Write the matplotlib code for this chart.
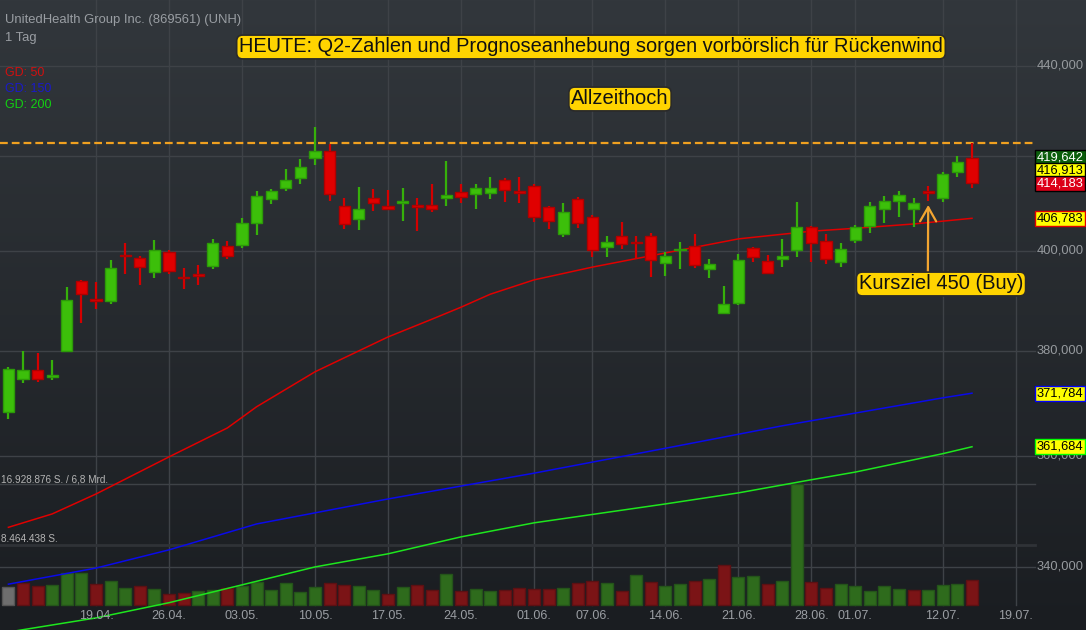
import matplotlib
matplotlib.use('Agg')
import matplotlib.pyplot as plt
import numpy as np

plt.rcParams['font.family'] = ['Liberation Sans', 'DejaVu Sans']

# daily candles 09.04. - 14.07. (trading days, index 0..66)
opens = [368.3, 374.6, 376.3, 375.0, 380.0, 393.9, 390.1, 389.9, 399.2, 398.5,
         395.8, 399.8, 394.7, 395.3, 396.9, 401.0, 401.2, 405.7, 410.8, 413.2,
         415.2, 419.5, 421.1, 409.4, 406.6, 411.1, 409.4, 410.0, 409.5, 409.5,
         411.0, 412.4, 412.0, 412.2, 414.8, 412.6, 413.7, 409.1, 403.6, 410.9,
         407.0, 400.9, 403.2, 401.8, 403.2, 397.5, 400.2, 401.0, 396.3, 387.4,
         389.5, 400.6, 397.9, 398.4, 400.3, 404.9, 402.0, 397.8, 402.2, 405.2,
         408.8, 410.4, 408.8, 412.4, 411.1, 416.6, 419.642]
highs = [376.9, 379.9, 379.5, 378.2, 392.7, 394.1, 393.7, 398.2, 401.6, 399.0,
         402.3, 400.2, 396.5, 397.1, 402.4, 402.1, 406.9, 412.6, 412.9, 417.2,
         419.4, 426.4, 422.6, 411.1, 413.3, 412.9, 412.7, 413.1, 411.1, 414.1,
         419.0, 414.1, 414.1, 415.5, 415.2, 415.6, 414.0, 409.4, 409.9, 411.3,
         407.4, 403.0, 406.0, 403.0, 403.7, 399.8, 401.9, 403.5, 398.3, 392.9,
         399.3, 400.8, 399.2, 402.5, 410.3, 405.2, 403.5, 401.6, 405.4, 410.3,
         411.5, 412.5, 411.0, 413.5, 416.6, 420.1, 422.8]
lows = [366.8, 373.8, 374.0, 374.3, 379.8, 385.4, 388.3, 389.3, 395.3, 393.1,
        394.4, 395.2, 392.2, 393.1, 396.3, 398.3, 400.6, 403.4, 409.7, 412.5,
        414.1, 418.1, 410.5, 404.6, 404.3, 408.4, 408.7, 406.3, 404.2, 408.1,
        409.4, 410.0, 408.8, 410.8, 410.2, 410.0, 406.1, 404.5, 402.8, 404.7,
        398.7, 398.7, 400.5, 398.4, 394.7, 394.9, 396.4, 396.6, 394.5, 387.2,
        389.1, 397.8, 395.2, 396.8, 398.8, 397.8, 397.4, 396.8, 401.7, 403.8,
        405.7, 407.1, 405.0, 410.4, 410.2, 415.5, 413.2]
closes = [376.4, 376.2, 374.5, 375.2, 390.0, 391.2, 390.0, 396.5, 399.0, 396.7,
          400.3, 396.0, 394.5, 394.9, 401.6, 398.9, 405.9, 411.4, 412.5, 414.8,
          417.6, 421.1, 411.8, 405.5, 408.8, 410.0, 408.8, 410.5, 409.3, 408.8,
          411.6, 411.2, 413.1, 413.2, 412.8, 412.2, 407.0, 406.2, 408.1, 405.8,
          400.3, 401.8, 401.4, 401.7, 398.1, 399.0, 400.4, 397.2, 397.4, 389.3,
          398.1, 398.8, 395.6, 399.0, 404.9, 401.6, 398.3, 400.4, 404.9, 409.3,
          410.5, 411.6, 410.0, 412.2, 416.1, 418.7, 414.183]
volumes = [2.52, 3.03, 2.61, 2.80, 4.48, 4.48, 2.89, 3.31, 2.38, 2.71,
           2.29, 1.54, 1.73, 1.91, 2.15, 2.43, 2.61, 3.27, 2.10, 3.10,
           1.86, 2.48, 3.10, 2.81, 2.63, 2.10, 1.58, 2.57, 2.81, 2.15,
           4.39, 1.91, 2.29, 1.96, 2.10, 2.38, 2.24, 2.24, 2.34, 3.05,
           3.39, 3.10, 1.91, 4.15, 3.15, 2.72, 2.91, 3.39, 3.58, 5.63,
           3.91, 4.05, 3.00, 3.34, 16.928876, 3.22, 2.42, 2.89, 2.66, 1.96,
           2.61, 2.24, 2.05, 2.10, 2.80, 2.98, 3.50]  # Mio. Stueck
last_mid = 416.913

gd50_days = [0, 3, 6, 11, 15, 17, 21, 26, 29, 31, 33, 36, 40, 45, 50, 55, 58, 62, 66]
gd50 = [347.0, 349.4, 353.0, 359.8, 365.2, 369.2, 375.9, 382.7, 386.2, 388.6,
        391.2, 394.1, 396.7, 399.6, 402.5, 404.1, 404.7, 405.6, 406.783]
gd150_days = [0, 6, 11, 17, 26, 36, 45, 53, 58, 64, 66]
gd150 = [337.0, 339.8, 343.0, 347.6, 352.1, 356.8, 361.4, 365.6, 368.0, 370.9, 371.784]
gd200_days = [0, 6, 11, 17, 21, 26, 31, 36, 45, 50, 55, 58, 64, 66]
gd200 = [328.8, 331.2, 333.8, 337.5, 340.0, 342.3, 345.3, 347.8, 351.2, 353.2,
         355.6, 357.0, 360.4, 361.684]

tick_days = [6, 11, 16, 21, 26, 31, 36, 40, 45, 50, 55, 58, 64, 69]
tick_labels = ['19.04.', '26.04.', '03.05.', '10.05.', '17.05.', '24.05.', '01.06.',
               '07.06.', '14.06.', '21.06.', '28.06.', '01.07.', '12.07.', '19.07.']
price_grid = [340, 360, 380, 400, 420, 440]
price_labels = [340, 360, 380, 400, 440]
vmax = 16928876

# ---- layout (pixels of the 1086x630 picture)
W, H = 1086, 630
x0_px, step_px = 8.4, 14.6
y400_px, px_per_ln = 251, 1944
vol_base_px, vol_top_px = 605, 484
right_px = 1035

fig = plt.figure(figsize=(W / 100, H / 100), dpi=100)

top_c = np.array([50, 55, 60]) / 255
bot_c = np.array([26, 29, 33]) / 255
t = np.linspace(0, 1, H)[:, None, None]
grad = (top_c * (1 - t) + bot_c * t) * np.ones((1, W, 1))
fig.figimage(grad, xo=0, yo=0, origin='upper', zorder=-1)

xlim = (-x0_px / step_px, (W - x0_px) / step_px)
ylim = (400 * np.exp(-(H - y400_px) / px_per_ln), 400 * np.exp(y400_px / px_per_ln))
per_px = vmax / (vol_base_px - vol_top_px)
vlim = (-(H - vol_base_px) * per_px, vol_base_px * per_px)

axg = fig.add_axes([0, 0, 1, 1], zorder=1)
axv = fig.add_axes([0, 0, 1, 1], zorder=2)
ax = fig.add_axes([0, 0, 1, 1], zorder=3)
for a in (axg, ax):
    a.set_yscale('log')
    a.set_ylim(ylim)
axv.set_ylim(vlim)
for a in (axg, axv, ax):
    a.set_xlim(xlim)
    a.axis('off')

grid_c = '#3e4247'
xr = right_px / W
for d in tick_days:
    axg.axvline(d, ymin=(H - vol_base_px) / H, ymax=1, color=grid_c, lw=1)
for p in price_grid:
    axg.axhline(p, xmax=xr, color=grid_c, lw=1)
axv.axhline(vmax, xmax=xr, color=grid_c, lw=1)
axv.axhline(vmax / 2, xmax=xr, color='#2f3237', lw=2)

# volumes
o = np.array(opens); c = np.array(closes)
hi = np.array(highs); lo = np.array(lows)
idx = np.arange(len(c))
vol = np.array(volumes) * 1e6
vol[54] = vmax
vcol = ['#6e6e6e'] + ['#2e6b1c' if c[k] > c[k - 1] else '#7b1416' for k in range(1, len(c))]
vedge = ['#555555'] + ['#24541a' if c[k] > c[k - 1] else '#5c1013' for k in range(1, len(c))]
axv.bar(idx, vol, width=0.82, color=vcol, edgecolor=vedge, lw=1, zorder=2)

def dots(n):
    return '{:,}'.format(n).replace(',', '.')

fs_small = 7.2
axv.text(1 / W, vmax, dots(vmax) + ' S. / 6,8 Mrd.',
         transform=axv.get_yaxis_transform(), color='#b4b4b4', fontsize=fs_small,
         va='bottom', ha='left')
axv.text(1 / W, vmax / 2, dots(vmax // 2) + ' S.',
         transform=axv.get_yaxis_transform(), color='#b4b4b4', fontsize=fs_small,
         va='bottom', ha='left')

# moving averages
ax.plot(gd200_days, gd200, color='#1ee61e', lw=1.1, zorder=2)
ax.plot(gd150_days, gd150, color='#0a0aeb', lw=1.1, zorder=2)
ax.plot(gd50_days, gd50, color='#e00000', lw=1.1, zorder=2)

# candles
up = c >= o
body_h = np.maximum(np.abs(c - o), 0.35)
body_lo = (o + c) / 2 - body_h / 2
ax.vlines(idx[up], lo[up], hi[up], color='#36b00a', lw=1.6, zorder=4)
ax.vlines(idx[~up], lo[~up], hi[~up], color='#d40000', lw=1.6, zorder=4)
ax.bar(idx[up], body_h[up], bottom=body_lo[up], width=0.78, color='#3cbf0a',
       edgecolor='#2c9a08', lw=1, zorder=5)
ax.bar(idx[~up], body_h[~up], bottom=body_lo[~up], width=0.78, color='#e00000',
       edgecolor='#b00000', lw=1, zorder=5)

# hoch-linie
ax.axhline(hi[-1], xmax=xr, color='#f0a020', lw=1.6, ls=(0, (3.5, 1.8)), zorder=3)

# right axis labels
ytr = ax.get_yaxis_transform()
lx = (right_px + 2) / W
for p in price_labels:
    ax.text(lx, p, '{},000'.format(p), transform=ytr, color='#969a9e',
            fontsize=9.3, va='center', ha='left', zorder=6)

def fmt(v):
    return '{:.3f}'.format(v).replace('.', ',')

boxes = [(o[-1], '#0b5e0b', 'black', 'white'),
         (last_mid, '#ffff00', 'black', 'black'),
         (c[-1], '#dc0018', 'black', 'white'),
         (gd50[-1], '#ffff00', '#e00000', 'black'),
         (gd150[-1], '#ffff00', '#0000ff', 'black'),
         (gd200[-1], '#ffff00', '#00ff00', 'black')]
for v, fc, ec, tc in boxes:
    ax.text(lx, v, fmt(v), transform=ytr, color=tc, fontsize=9.3, va='center',
            ha='left', zorder=8,
            bbox=dict(boxstyle='square,pad=0.12', fc=fc, ec=ec, lw=1))

# header texts
gray = '#9a9ea3'
fig.text(5 / W, 1 - 20 / H, 'UnitedHealth Group Inc. (869561) (UNH)', color=gray,
         fontsize=9.4, va='center', ha='left')
fig.text(5 / W, 1 - 38 / H, '1 Tag', color=gray, fontsize=9.4, va='center', ha='left')
fig.text(5 / W, 1 - 73 / H, 'GD: 50', color='#d01010', fontsize=9, va='center')
fig.text(5 / W, 1 - 89 / H, 'GD: 150', color='#1a1ac8', fontsize=9, va='center')
fig.text(5 / W, 1 - 105 / H, 'GD: 200', color='#12d012', fontsize=9, va='center')

# dates
for d, lab in zip(tick_days, tick_labels):
    ax.text(d, 1 - 616 / H, lab, transform=ax.get_xaxis_transform(), color=gray,
            fontsize=9, ha='center', va='center')

# yellow notes
note = dict(boxstyle='round,pad=0.12,rounding_size=0.3', fc='#ffd400', ec='#2a2a2a', lw=1.2)
ax.text(591 / W, 1 - 47 / H,
        'HEUTE: Q2-Zahlen und Prognoseanhebung sorgen vorbörslich für Rückenwind',
        transform=ax.transAxes, fontsize=14.4, ha='center', va='center',
        color='#111111', bbox=note, zorder=9)
ax.text(620 / W, 1 - 99 / H, 'Allzeithoch', transform=ax.transAxes, fontsize=14.5,
        ha='center', va='center', color='#111111', bbox=note, zorder=9)
ax.annotate('Kursziel 450 (Buy)', xy=(63, lo[63] * 0.998), xycoords='data',
            xytext=(941 / W, 1 - 284 / H), textcoords='axes fraction',
            fontsize=14.5, ha='center', va='center', color='#111111', bbox=note, zorder=9,
            arrowprops=dict(arrowstyle='->,head_length=0.7,head_width=0.4',
                            color='#f2a531', lw=1.6, shrinkA=0, shrinkB=0,
                            relpos=(0.42, 1.0)))

fig.savefig('out.png', dpi=100)
